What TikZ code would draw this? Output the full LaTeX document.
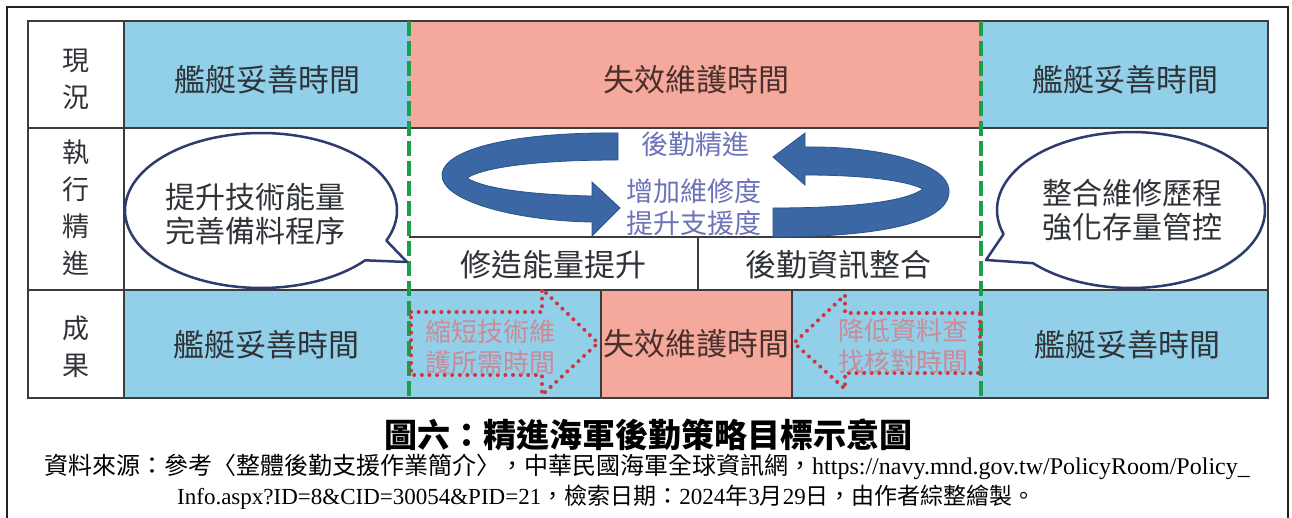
\documentclass[tikz,border=0pt]{standalone}
\usepackage{fontspec}
\setmainfont{Liberation Serif}
\newfontfamily\cjk{Noto Sans CJK TC}
\usetikzlibrary{calc}
\definecolor{cellblue}{HTML}{92D0EA}
\definecolor{cellpink}{HTML}{F5A99C}
\definecolor{tableline}{HTML}{3C3C3C}
\definecolor{dgreen}{HTML}{1E9E4A}
\definecolor{dred}{HTML}{D0343F}
\definecolor{ribbonblue}{HTML}{3B67A4}
\definecolor{ribbonedge}{HTML}{2A538C}
\definecolor{bubbleline}{HTML}{2E3B6E}
\definecolor{txtdark}{HTML}{2F3338}
\definecolor{txtpink}{HTML}{4A302D}
\definecolor{txtcycle}{HTML}{6D73B8}
\definecolor{txtarrow}{HTML}{CC8A95}
\definecolor{framecol}{HTML}{222222}
\begin{document}
\begin{tikzpicture}[x=1pt,y=-1pt,
  celltext/.style={font=\cjk\fontsize{31}{36}\selectfont, text=txtdark, inner sep=0pt},
  pinktext/.style={font=\cjk\fontsize{31}{36}\selectfont, text=txtpink, inner sep=0pt},
  rowlabel/.style={font=\cjk\fontsize{27}{37}\selectfont, text=txtdark, align=center, inner sep=0pt},
  bubtext/.style={font=\cjk\fontsize{30}{34}\selectfont, text=txtdark, align=center, inner sep=0pt},
  cycletext/.style={font=\cjk\fontsize{27}{32}\selectfont, text=txtcycle, inner sep=0pt},
  arrowtext/.style={font=\cjk\fontsize{26}{31}\selectfont, text=txtarrow, align=center, inner sep=0pt},
  tline/.style={draw=tableline, line width=1.5pt},
  gdash/.style={draw=dgreen, line width=4pt, dash pattern=on 15pt off 5pt},
  rdot/.style={draw=dred, line width=4pt, dash pattern=on 0pt off 7.6pt, line cap=round, line join=round},
  ribbon/.style={fill=ribbonblue, draw=ribbonedge, line width=0.8pt},
  bubble/.style={fill=white, draw=bubbleline, line width=2.5pt, line join=round}
]
\useasboundingbox (0,0) rectangle (1292,518);
\fill[white] (0,0) rectangle (1292,518);
\begin{scope}
\clip (0,0) rectangle (1292,518);
\draw[framecol, line width=2.5pt] (7,7) rectangle (1288,560);
\end{scope}

% cell fills
\fill[cellblue] (124,21) rectangle (409,128);
\fill[cellpink] (409,21) rectangle (981,128);
\fill[cellblue] (981,21) rectangle (1268,128);
\fill[cellblue] (124,290) rectangle (601,398);
\fill[cellpink] (601,290) rectangle (792,398);
\fill[cellblue] (792,290) rectangle (1268,398);

% table lines
\draw[tline] (28,21) rectangle (1268,398);
\draw[tline] (28,128) -- (1268,128);
\draw[tline] (28,290) -- (1268,290);
\draw[tline] (124,21) -- (124,398);
\draw[tline] (409,237) -- (981,237);
\draw[tline] (698,237) -- (698,290);
\draw[tline] (601,290) -- (601,398);
\draw[tline] (792,290) -- (792,398);

% cycle ribbons
\filldraw[ribbon] (618,133) .. controls (530,132) and (446,145) .. (442,174)
  .. controls (440,202) and (520,221) .. (592,222)
  -- (592,236) -- (620,208) -- (592,182) -- (592,196)
  .. controls (540,195) and (486,190) .. (467,178)
  .. controls (486,166) and (545,160) .. (618,160) -- cycle;
\filldraw[ribbon] (805,147) .. controls (880,146) and (947,163) .. (949,190)
  .. controls (951,225) and (870,237) .. (773,237)
  -- (773,208)
  .. controls (850,208) and (905,202) .. (923,189)
  .. controls (905,180) and (860,175) .. (805,175)
  -- (805,185) -- (773,157) -- (805,133) -- cycle;

% green dashed lines
\draw[gdash] (409,21) -- (409,398);
\draw[gdash] (981,21) -- (981,398);

% speech bubbles
\filldraw[bubble] plot[domain=40:382.8, samples=90, smooth] ({261+136*cos(\x)},{210.5+77.5*sin(\x)}) -- (407,262) -- cycle;
\filldraw[bubble] plot[domain=162:497, samples=90, smooth] ({1131+134*cos(\x)},{210+78*sin(\x)}) -- (986,260) -- cycle;

% red dotted arrows
\draw[rdot] (411,312) -- (542,312) -- (542,289) -- (598,343) -- (542,395) -- (542,375) -- (411,375) -- cycle;
\draw[rdot] (980,313) -- (845,313) -- (845,295) -- (794,343) -- (845,389) -- (845,373) -- (980,373) -- cycle;

% row labels
\node[rowlabel] (l1) at (76,79) {現\\況};
\node[rowlabel] (l2) at (76,208) {執\\行\\精\\進};
\node[rowlabel] (l3) at (76,347) {成\\果};

% row 1
\node[celltext] (a1) at (267,80) {艦艇妥善時間};
\node[pinktext] (a2) at (696,80) {失效維護時間};
\node[celltext] (a3) at (1125,80) {艦艇妥善時間};

% row 2
\node[cycletext] (c1) at (695,144) {後勤精進};
\node[cycletext] (c2) at (694,191) {增加維修度};
\node[cycletext] (c3) at (694,223) {提升支援度};
\node[celltext] (b1) at (553,265) {修造能量提升};
\node[celltext] (b2) at (838,265) {後勤資訊整合};
\node[bubtext] (s1) at (255,214) {提升技術能量\\完善備料程序};
\node[bubtext] (s2) at (1132,210) {整合維修歷程\\強化存量管控};

% row 3
\node[celltext] (d1) at (266,345) {艦艇妥善時間};
\node[arrowtext] (e1) at (490,347) {縮短技術維\\護所需時間};
\node[pinktext] (d2) at (696,344) {失效維護時間};
\node[arrowtext] (e2) at (903,346) {降低資料查\\找核對時間};
\node[celltext] (d3) at (1127,345) {艦艇妥善時間};

% caption
\node[font=\cjk\bfseries\fontsize{33}{36}\selectfont, text=black, inner sep=0pt] (cap) at (648,435) {圖六：精進海軍後勤策略目標示意圖};
\node[anchor=west, font=\fontsize{24}{27}\selectfont, text=black, inner sep=0pt] (src1) at (44,467)
  {{\cjk 資料來源：參考〈整體後勤支援作業簡介〉，中華民國海軍全球資訊網，}https://navy.mnd.gov.tw/PolicyRoom/Policy\_};
\node[anchor=west, font=\fontsize{23}{26}\selectfont, text=black, inner sep=0pt] (src2) at (177,497)
  {Info.aspx?ID=8\&CID=30054\&PID=21{\cjk ，檢索日期：}2024{\cjk 年}3{\cjk 月}29{\cjk 日，由作者綜整繪製。}};
\end{tikzpicture}
\end{document}
